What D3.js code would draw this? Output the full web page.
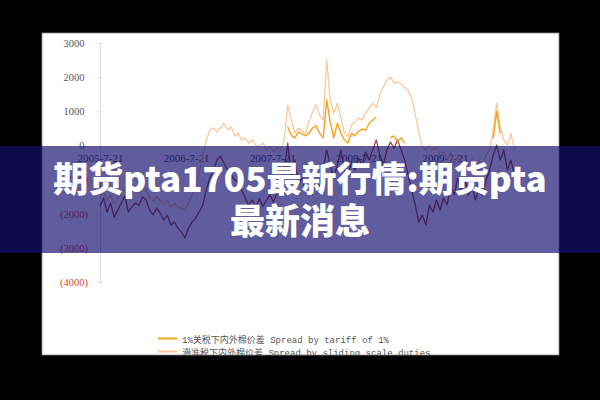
<!DOCTYPE html>
<html><head><meta charset="utf-8">
<script src="https://cdn.jsdelivr.net/npm/d3@7"></script>
<style>
html,body{margin:0;padding:0;background:#000;}
svg{display:block;}
</style></head>
<body>
<svg id="c" width="600" height="400"></svg>
<script>
// ---- data (semi-monthly samples, starting 2005-07-21, 15-day steps) ----
const startDate = "2005-07-21";
const stepDays = 15;
const tickLabels = ["2005-7-21","2006-7-21","2007-7-21","2008-7-21","2009-7-21"];
const yTicks = [3000,2000,1000,0,-1000,-2000,-3000,-4000];

const brown = [-1800,-1540,-1950,-1690,-2100,-1890,-1690,-1480,-1950,-1800,
-1690,-1750,-1510,-1600,-1890,-2040,-1830,-1980,-2190,-2040,
-2330,-2240,-2420,-2540,-2710,-2420,-2240,-2130,-1950,-1750,
-1310,-960,-720,-430,-310,-520,-720,-870,-1010,-1070,
-1310,-1540,-1750,-1600,-1800,-1570,-1780,-1600,-1450,-1660,
-1360,-1160,-720,70,-870,-430,-1160,-960,-1310,-1070,
-1450,-1010,-1250,-720,-130,-570,-960,-570,-130,-720,
-870,-490,-720,-370,-570,-190,-430,-130,160,-280,
-570,-130,100,-80,160,-130,-430,-870,-1310,-1750,
-2240,-2040,-2330,-1750,-1950,-1600,-1890,-1540,-1750,-1160,
-1450,-960,-1310,-1010,-1450,-1160,-1600,-1250,-1450,-1010,
-720,-280,10,-430,-130,-720,-430,-870];

const peach = [-1500,-1350,-1600,-1450,-1700,-1550,-1400,-1250,-1500,-1450,
-1300,-1400,-1200,-1300,-1500,-1650,-1500,-1600,-1750,-1600,
-1800,-1700,-1800,-1850,-1900,-1700,-1450,-1200,-800,-300,
150,450,510,390,510,650,450,540,280,360,
160,220,70,160,10,-50,70,-130,-20,-190,
-50,-130,160,1180,740,360,510,420,360,690,
980,1180,890,740,2500,1330,950,1240,800,360,
250,600,690,800,740,950,1100,1240,1100,1480,
1710,1920,2000,1830,1860,1800,1700,1600,1400,900,
390,-50,-130,10,-130,-50,-280,-190,-430,-190,
-570,-280,-720,-430,-570,-370,-720,-430,-570,-280,
-130,450,1240,540,160,10,360,-130];

const orange = [null,null,null,null,null,null,null,null,null,null,
null,null,null,null,null,null,null,null,null,null,
null,null,null,null,null,null,null,null,null,null,
null,null,null,null,null,null,null,null,null,null,
null,null,null,null,null,null,null,null,null,null,
null,null,null,540,300,220,390,330,280,360,
510,570,360,220,1330,690,220,650,360,160,
70,360,280,420,480,450,650,740,830,null,
null,null,220,280,130,220,70,null,null,null,
null,null,null,null,null,null,null,null,null,null,
null,null,null,null,null,null,null,null,null,null,
null,200,1000,350,null,null,null,null];

const legendItems = [
  {label:"1%关税下内外棉价差 Spread by tariff of 1%", color:"#f5a21e"},
  {label:"滑准税下内外棉价差 Spread by sliding scale duties", color:"#fbc596"}
];
const title1 = "期货pta1705最新行情:期货pta";
const title2 = "最新消息";

// ---- drawing ----
const svg = d3.select("#c");
const parse = d3.timeParse("%Y-%m-%d");
const parseTick = d3.timeParse("%Y-%-m-%-d");
const t0 = parse(startDate);
const dateAt = i => d3.timeDay.offset(t0, i*stepDays);

const x = d3.scaleTime().domain([parseTick(tickLabels[0]), parseTick(tickLabels[4])]).range([100,445]);
const y = d3.scaleLinear().domain([-4000,3000]).range([282,43]);

// white panel
svg.append("defs").append("clipPath").attr("id","panel")
  .append("rect").attr("x",42).attr("y",33).attr("width",517).attr("height",322);
svg.append("rect").attr("x",42).attr("y",33).attr("width",517).attr("height",322)
  .attr("fill","#fff").attr("stroke","#8a8a8a").attr("stroke-width",0.8);

const g = svg.append("g").attr("clip-path","url(#panel)");

// y axis
const yAxis = d3.axisLeft(y).tickValues(yTicks)
  .tickFormat(d => d < 0 ? `(${-d})` : `${d}`)
  .tickSizeInner(3).tickSizeOuter(0).tickPadding(9);
const ya = g.append("g").attr("transform","translate(100,0)").call(yAxis);
ya.select(".domain").attr("stroke","#dcdcdc");
ya.selectAll(".tick line").attr("stroke","#dcdcdc").attr("x2",2).attr("x1",-3);
ya.selectAll(".tick text")
  .attr("font-family","'Liberation Serif', serif").attr("font-size","10.5px")
  .attr("fill", d => d < 0 ? "#e2403a" : "#555")
  .attr("dx", d => d < 0 ? "0" : "-3.5");

// x axis labels (at zero line)
const xAxis = d3.axisBottom(x).tickValues(tickLabels.map(parseTick))
  .tickFormat((d,i) => tickLabels[i]).tickSize(0).tickPadding(9);
const xa = g.append("g").attr("transform",`translate(0,${y(0)})`).call(xAxis);
xa.select(".domain").remove();
xa.selectAll(".tick text").attr("font-family","'Liberation Serif', serif")
  .attr("font-size","11px").attr("fill","#4a4a4a");

// lines
const mkLine = (arr, color, w) => {
  g.append("path").datum(arr)
   .attr("d", d3.line().defined(d => d != null).x((d,i)=>x(dateAt(i))).y(d=>y(d)))
   .attr("fill","none").attr("stroke",color).attr("stroke-width",w)
   .attr("stroke-linejoin","round");
};
mkLine(peach, "#fcc89a", 1.3);
mkLine(brown, "#a04c34", 1.3);
mkLine(orange, "#f5a21e", 1.4);

// legend
const lg = g.append("g");
legendItems.forEach((it,i) => {
  const yy = 338.5 + i*13;
  lg.append("line").attr("x1",158).attr("x2",177).attr("y1",yy).attr("y2",yy)
    .attr("stroke",it.color).attr("stroke-width",2);
  lg.append("text").attr("x",182).attr("y",yy+4)
    .attr("font-family","'Liberation Mono', 'Noto Sans CJK SC', monospace")
    .attr("font-size","9px").attr("fill","#555").text(it.label);
});

// banner overlay
svg.append("rect").attr("x",0).attr("y",146).attr("width",600).attr("height",107)
  .attr("fill","rgb(20,15,110)").attr("fill-opacity",0.68);
svg.append("text").attr("x",300).attr("y",192).attr("text-anchor","middle")
  .attr("font-family","'Noto Sans CJK SC', sans-serif").attr("font-weight",900)
  .attr("font-size","35px").attr("fill","#fff").text(title1);
svg.append("text").attr("x",300).attr("y",234).attr("text-anchor","middle")
  .attr("font-family","'Noto Sans CJK SC', sans-serif").attr("font-weight",900)
  .attr("font-size","35px").attr("fill","#fff").text(title2);
</script>
</body></html>
